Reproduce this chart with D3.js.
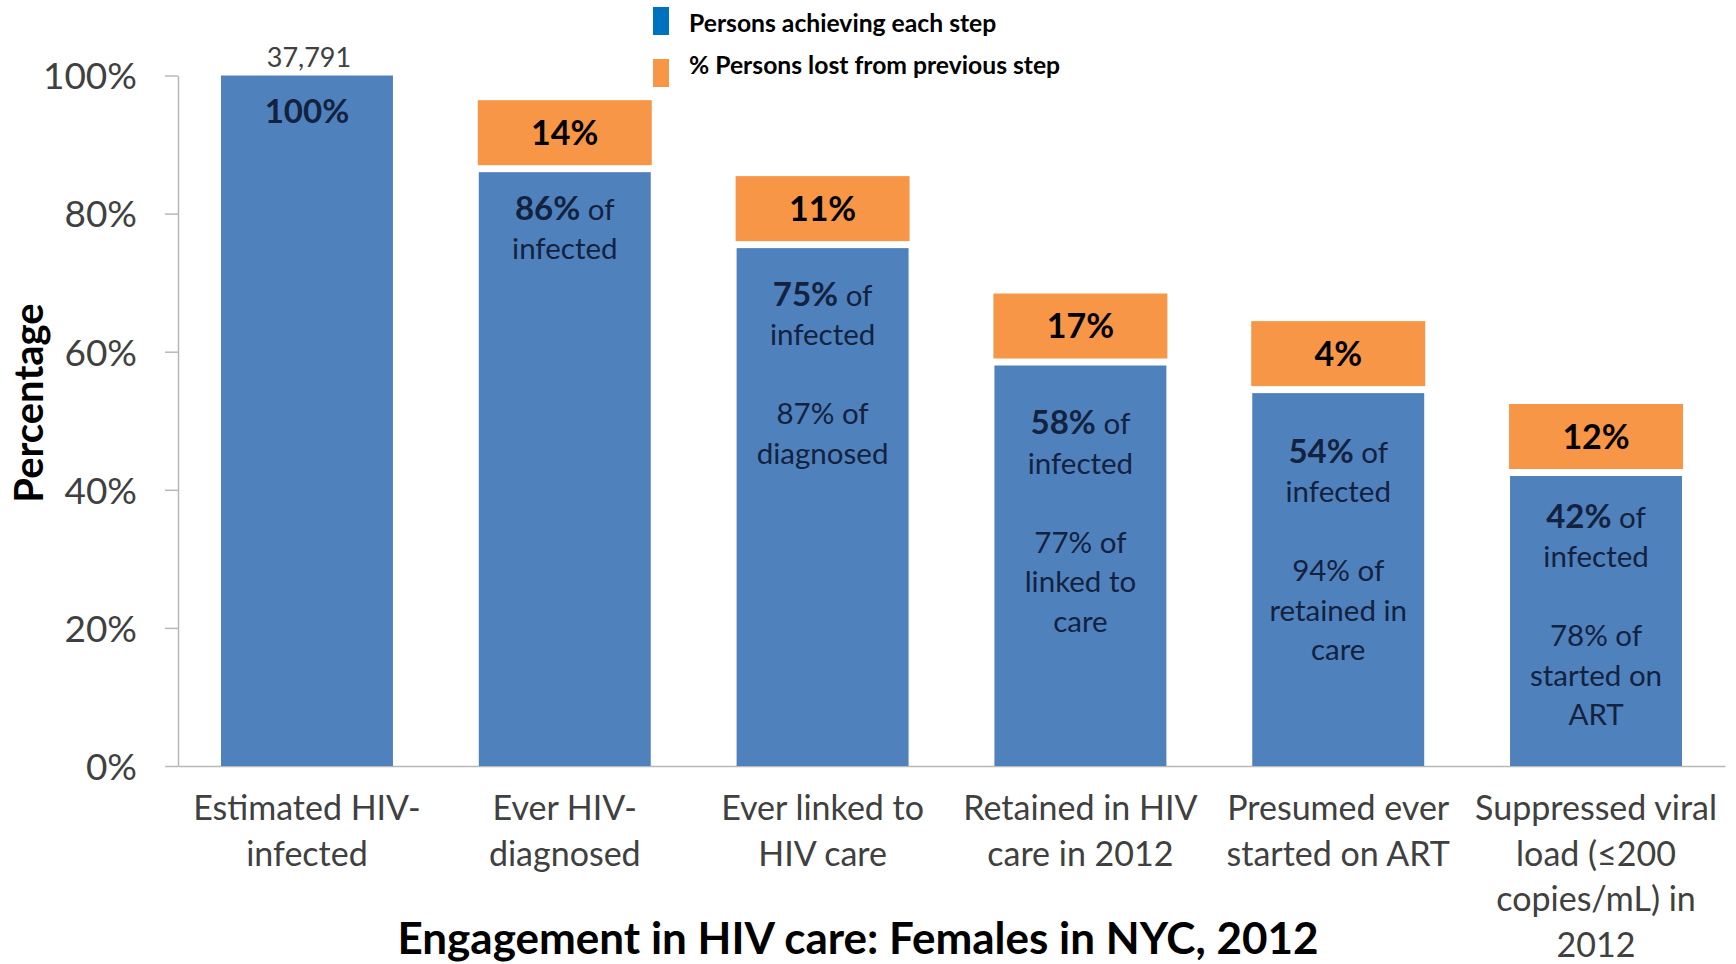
<!DOCTYPE html>
<html>
<head>
<meta charset="utf-8">
<script src="https://cdn.jsdelivr.net/npm/d3@7"></script>
<style>
  html, body { margin: 0; padding: 0; background: #ffffff; }
  svg { display: block; font-family: Carlito, Calibri, Lato, sans-serif; }
</style>
</head>
<body>
<script>
// HIV care continuum for women in New York City, 2012
const stepLines = [
  ["Estimated HIV-", "infected"],
  ["Ever HIV-", "diagnosed"],
  ["Ever linked to", "HIV care"],
  ["Retained in HIV", "care in 2012"],
  ["Presumed ever", "started on ART"],
  ["Suppressed viral", "load (\u2264200", "copies/mL) in", "2012"]
];
const pctOfInfected = [100, 86, 75, 58, 54, 42];
const pctLost = [null, 14, 11, 17, 4, 12];
const pctOfPrevious = [null, null, 87, 77, 94, 78];
const previousStepLines = [null, null, ["diagnosed"], ["linked to", "care"], ["retained in", "care"], ["started on", "ART"]];
const totalInfected = 37791;
const yTicks = [0, 20, 40, 60, 80, 100];
const legendItems = ["Persons achieving each step", "% Persons lost from previous step"];

// layout: how far below each bar top its note starts (px)
const noteDrop = [37, 37, 47, 58, 59, 41];

const W = 1736, H = 964;
const blue = "#4f81bd", orange = "#f79646", legendBlue = "#0070c0";
const axisGray = "#b8b8b8", labelGray = "#404040", noteInk = "#13223f";

const svg = d3.select("body").append("svg")
  .attr("width", W).attr("height", H);

const x = d3.scaleBand()
  .domain(d3.range(stepLines.length))
  .range([178, 1725])
  .paddingInner(0.333)
  .paddingOuter(0.1667);

const y = d3.scaleLinear().domain([0, 100]).range([766, 75.5]);

// y axis
const yAxis = svg.append("g")
  .attr("transform", "translate(178,0)")
  .call(d3.axisLeft(y).tickValues(yTicks).tickSize(13).tickSizeOuter(0).tickFormat(d => d + "%"));
yAxis.select(".domain").attr("stroke", axisGray).attr("stroke-width", 1.5);
yAxis.selectAll(".tick line").attr("stroke", axisGray).attr("stroke-width", 1.5);
yAxis.selectAll(".tick text")
  .attr("x", -41).attr("dy", "0.36em")
  .attr("fill", labelGray)
  .style("font-family", "Lato, sans-serif")
  .style("font-size", "37px");

// x axis baseline
const xAxis = svg.append("g")
  .attr("transform", "translate(0,766)")
  .call(d3.axisBottom(x).tickSize(0).tickSizeOuter(0).tickFormat(""));
xAxis.select(".domain").attr("stroke", axisGray).attr("stroke-width", 1.5);

// category labels
const catLabels = svg.append("g").selectAll("text")
  .data(stepLines)
  .join("text")
  .attr("text-anchor", "middle")
  .attr("fill", labelGray)
  .style("font-family", "Lato, sans-serif")
  .style("font-size", "34px");
catLabels.each(function (lines, i) {
  d3.select(this).selectAll("tspan")
    .data(lines)
    .join("tspan")
    .attr("x", x(i) + x.bandwidth() / 2)
    .attr("y", (d, k) => 820 + k * 45.5)
    .text(d => d);
});

// bars
svg.append("g").selectAll("rect")
  .data(pctOfInfected)
  .join("rect")
  .attr("x", (d, i) => x(i))
  .attr("y", d => y(d))
  .attr("width", x.bandwidth())
  .attr("height", d => y(0) - y(d))
  .attr("fill", blue);

// count above the first bar
svg.append("text")
  .attr("x", x(0) + x.bandwidth() / 2 + 2)
  .attr("y", y(pctOfInfected[0]) - 9)
  .attr("text-anchor", "middle")
  .attr("fill", labelGray)
  .style("font-family", "Lato, sans-serif")
  .style("font-size", "27px")
  .text(d3.format(",")(totalInfected));

// notes inside bars
const lineH = 39.5;
pctOfInfected.forEach((v, i) => {
  const cx = x(i) + x.bandwidth() / 2;
  const top = y(v) + noteDrop[i];
  const g = svg.append("g")
    .attr("fill", noteInk)
    .attr("text-anchor", "middle")
    .style("font-family", "Lato, sans-serif")
    .style("font-size", "29.5px");
  const first = g.append("text")
    .attr("x", cx).attr("y", top).attr("dy", "0.36em");
  first.append("tspan").style("font-weight", "700").style("font-size", "33px").text(v + "%");
  if (i > 0) {
    first.append("tspan").text(" of");
    g.append("text")
      .attr("x", cx).attr("y", top + lineH).attr("dy", "0.36em")
      .text("infected");
  }
  if (pctOfPrevious[i] != null) {
    const lines = [pctOfPrevious[i] + "% of"].concat(previousStepLines[i]);
    lines.forEach((t, k) => {
      g.append("text")
        .attr("x", cx).attr("y", top + (3 + k) * lineH).attr("dy", "0.36em")
        .text(t);
    });
  }
});

// loss callouts above bars
const boxH = 65, boxGap = 7;
const lossIdx = d3.range(pctLost.length).filter(i => pctLost[i] != null);
const callouts = svg.append("g").selectAll("g")
  .data(lossIdx)
  .join("g");
callouts.append("rect")
  .attr("x", i => x(i) - 1)
  .attr("y", i => y(pctOfInfected[i]) - boxGap - boxH)
  .attr("width", x.bandwidth() + 2)
  .attr("height", boxH)
  .attr("fill", orange);
callouts.append("text")
  .attr("x", i => x(i) + x.bandwidth() / 2)
  .attr("y", i => y(pctOfInfected[i]) - boxGap - boxH / 2)
  .attr("dy", "0.36em")
  .attr("text-anchor", "middle")
  .attr("fill", "#000")
  .style("font-family", "Lato, sans-serif")
  .style("font-weight", "700")
  .style("font-size", "34px")
  .text(i => pctLost[i] + "%");

// y axis title
svg.append("text")
  .attr("transform", "translate(43,403) rotate(-90)")
  .attr("text-anchor", "middle")
  .attr("fill", "#000")
  .style("font-family", "Lato, sans-serif")
  .style("font-weight", "700")
  .style("font-size", "40px")
  .text("Percentage");

// legend
const legend = svg.append("g");
legend.selectAll("rect")
  .data(legendItems)
  .join("rect")
  .attr("x", 653)
  .attr("y", (d, i) => i === 0 ? 7 : 59)
  .attr("width", 16)
  .attr("height", 28)
  .attr("fill", (d, i) => i === 0 ? legendBlue : orange);
legend.selectAll("text")
  .data(legendItems)
  .join("text")
  .attr("x", 689)
  .attr("y", (d, i) => i === 0 ? 32 : 74)
  .attr("fill", "#000")
  .style("font-family", "Lato, sans-serif")
  .style("font-weight", "700")
  .style("font-size", "24.7px")
  .text(d => d);

// chart title
svg.append("text")
  .attr("x", 858)
  .attr("y", 954)
  .attr("text-anchor", "middle")
  .attr("fill", "#000")
  .style("font-family", "Lato, sans-serif")
  .style("font-weight", "700")
  .style("font-size", "44px")
  .text("Engagement in HIV care: Females in NYC, 2012");
</script>
</body>
</html>
